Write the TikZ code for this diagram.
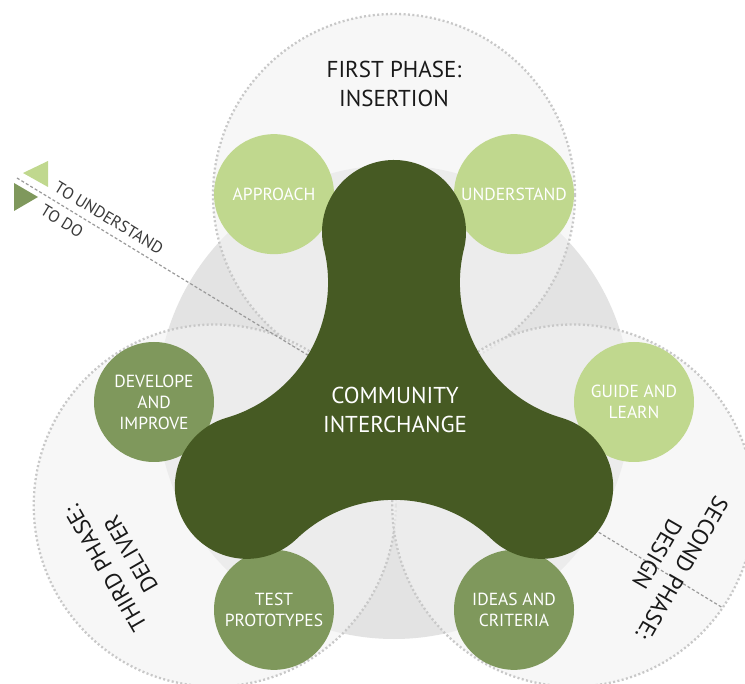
\documentclass[tikz,border=0pt]{standalone}
\usepackage{fontspec}
\setmainfont{PT Sans}
\definecolor{dkgreen}{HTML}{465A23}
\definecolor{ltgreen}{HTML}{C0D88E}
\definecolor{mdgreen}{HTML}{7F985C}
\definecolor{graycirc}{HTML}{E3E3E3}
\definecolor{phasefill}{HTML}{F3F3F3}
\definecolor{dashgray}{HTML}{C8C8C8}
\definecolor{legline}{HTML}{9A9A9A}
\definecolor{legtext}{HTML}{3A3A3A}
\begin{document}
\begin{tikzpicture}[x=1pt,y=1pt,
  phasecirc/.style={fill=phasefill, fill opacity=0.62, draw=dashgray, draw opacity=1, line width=2.3pt, dash pattern=on 2pt off 2.4pt},
  smallcirc/.style={circle, minimum size=120pt, inner sep=0pt, text=white, align=center, font=\fontsize{17.5}{21}\selectfont},
  phaselabel/.style={align=center, text=black!90, font=\fontsize{23}{29}\selectfont},
  legendtext/.style={text=legtext, font=\fontsize{16.5}{18}\selectfont, rotate=-31.35, inner sep=0pt}
]
\useasboundingbox (0,0) rectangle (745,-684);
\fill[white] (0,0) rectangle (745,-684);
\begin{scope}[shift={(394,-402)}]
  % central gray disc
  \fill[graycirc] (0,0) circle[radius=237];
  % phase circles
  \path[phasecirc] (90:207) circle[radius=181];
  \path[phasecirc] (210:207) circle[radius=181];
  \path[phasecirc] (330:207) circle[radius=181];
\end{scope}
% legend dashed line
\coordinate (p1) at (17,-178);
\coordinate (p2) at (723,-608);
\draw[legline, line width=1.2pt, dash pattern=on 3pt off 2.2pt] (p1) -- (p2);
\begin{scope}[shift={(394,-402)}]
  % small circles
  \node[smallcirc, fill=ltgreen] (approach) at (120:240) {APPROACH};
  \node[smallcirc, fill=ltgreen] (understand) at (60:240) {UNDERSTAND};
  \node[smallcirc, fill=ltgreen] (guide) at (0:240) {GUIDE AND\\LEARN};
  \node[smallcirc, fill=mdgreen] (develope) at (180:240) {DEVELOPE\\AND\\IMPROVE};
  \node[smallcirc, fill=mdgreen] (test) at (240:240) {TEST\\PROTOTYPES};
  \node[smallcirc, fill=mdgreen] (ideas) at (300:240) {IDEAS AND\\CRITERIA};
  % trefoil
  \fill[dkgreen] (90:170) ++(-13.7:72)
    arc[start angle=-13.7, end angle=193.7, radius=72]
    arc[start angle=13.7, end angle=-73.7, radius=141]
    arc[start angle=106.3, end angle=313.7, radius=72]
    arc[start angle=133.7, end angle=46.3, radius=141]
    arc[start angle=226.3, end angle=433.7, radius=72]
    arc[start angle=253.7, end angle=166.3, radius=141] -- cycle;
  \node[text=white, align=center, font=\fontsize{23}{29}\selectfont] (center) at (1,-8) {COMMUNITY\\INTERCHANGE};
  % phase labels
  \node[phaselabel] (first) at (90:318.5) {FIRST PHASE:\\INSERTION};
  \node[phaselabel, rotate=120] (third) at (210:318.5) {THIRD PHASE:\\DELIVER};
  \node[phaselabel, rotate=240] (second) at (330:318.5) {SECOND PHASE:\\DESIGN};
\end{scope}
% legend
\fill[ltgreen] (23,-173) -- (48,-161) -- (48,-187) -- cycle;
\fill[mdgreen] (14,-183) -- (14,-211) -- (38,-197) -- cycle;
\node[legendtext] (tounderstand) at (109,-218) {TO UNDERSTAND};
\node[legendtext] (todo) at (62,-221) {TO DO};
\end{tikzpicture}
\end{document}
